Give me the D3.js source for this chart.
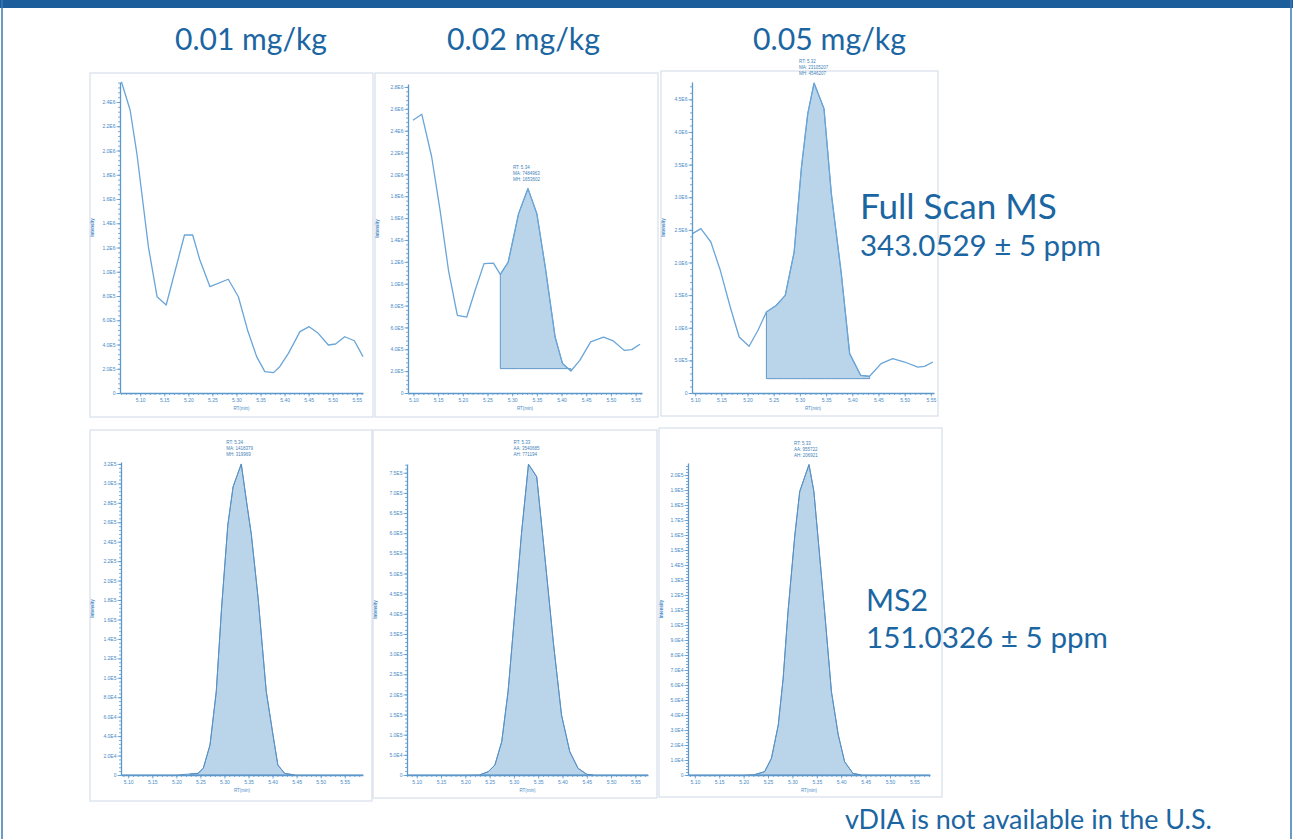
<!DOCTYPE html>
<html>
<head>
<meta charset="utf-8">
<script src="https://cdn.jsdelivr.net/npm/d3@7/dist/d3.min.js"></script>
<style>
  body { margin: 0; background: #fff; }
  svg { display: block; }
</style>
</head>
<body>
<svg id="chart" width="1293" height="839"></svg>
<script>
// ---- data ----
const concLabels = ["0.01 mg/kg", "0.02 mg/kg", "0.05 mg/kg"];
const rowLabels = [["Full Scan MS", "343.0529 \u00b1 5 ppm"], ["MS2", "151.0326 \u00b1 5 ppm"]];
const footNote = "vDIA is not available in the U.S.";

const rtTicks = [5.10, 5.15, 5.20, 5.25, 5.30, 5.35, 5.40, 5.45, 5.50, 5.55];

// Full Scan MS, 0.01 mg/kg
const fs1Rt  = [5.061, 5.079, 5.093, 5.117, 5.135, 5.154, 5.192, 5.209, 5.224, 5.245, 5.283, 5.304, 5.323, 5.342, 5.359, 5.377, 5.390, 5.408, 5.432, 5.451, 5.470, 5.491, 5.506, 5.525, 5.545, 5.563];
const fs1Int = [2567000, 2334000, 1977000, 1207000, 794000, 726000, 1303000, 1303000, 1097000, 877000, 938000, 794000, 520000, 300000, 176000, 168000, 217000, 327000, 506000, 547000, 492000, 396000, 404000, 464000, 431000, 300000];
const fs1YTicks = [0, 2e5, 4e5, 6e5, 8e5, 1e6, 1.2e6, 1.4e6, 1.6e6, 1.8e6, 2e6, 2.2e6, 2.4e6];

// Full Scan MS, 0.02 mg/kg
const fs2Rt  = [5.099, 5.117, 5.137, 5.154, 5.171, 5.189, 5.208, 5.225, 5.243, 5.262, 5.276, 5.292, 5.313, 5.332, 5.350, 5.367, 5.387, 5.402, 5.419, 5.437, 5.459, 5.485, 5.505, 5.527, 5.542, 5.559];
const fs2Int = [2495000, 2550000, 2159000, 1671000, 1123000, 711000, 695000, 940000, 1184000, 1189000, 1086000, 1198000, 1641000, 1870000, 1641000, 1153000, 512000, 269000, 201000, 299000, 467000, 512000, 476000, 390000, 397000, 446000];
const fs2YTicks = [0, 2e5, 4e5, 6e5, 8e5, 1e6, 1.2e6, 1.4e6, 1.6e6, 1.8e6, 2e6, 2.2e6, 2.4e6, 2.6e6, 2.8e6];
const fs2Peak = [5.276, 5.419, 223000];
const fs2Note = ["RT: 5.34", "MA: 7484963", "MH: 1653602"];

// Full Scan MS, 0.05 mg/kg
const fs3Rt  = [5.095, 5.111, 5.130, 5.148, 5.167, 5.184, 5.203, 5.220, 5.236, 5.255, 5.272, 5.289, 5.303, 5.315, 5.327, 5.346, 5.360, 5.379, 5.395, 5.416, 5.433, 5.455, 5.477, 5.500, 5.525, 5.538, 5.554];
const fs3Int = [2443000, 2519000, 2314000, 1880000, 1318000, 858000, 716000, 961000, 1241000, 1344000, 1497000, 2160000, 3463000, 4281000, 4750000, 4358000, 3055000, 1830000, 604000, 271000, 256000, 450000, 527000, 475000, 398000, 409000, 475000];
const fs3YTicks = [0, 5e5, 1e6, 1.5e6, 2e6, 2.5e6, 3e6, 3.5e6, 4e6, 4.5e6];
const fs3Peak = [5.236, 5.433, 220000];
const fs3Note = ["RT: 5.32", "MA: 23105207", "MH: 4546207"];

// MS2, 0.01 mg/kg
const ms1Rt  = [5.085, 5.150, 5.200, 5.228, 5.245, 5.256, 5.270, 5.283, 5.294, 5.307, 5.318, 5.335, 5.346, 5.356, 5.370, 5.387, 5.401, 5.411, 5.425, 5.446, 5.500, 5.588];
const ms1Int = [0, 0, 0, 1000, 1700, 6900, 30900, 85700, 171500, 257000, 296600, 319969, 281000, 247000, 182000, 85700, 41000, 10300, 1700, 0, 0, 0];
const ms1YTicks = [0, 2e4, 4e4, 6e4, 8e4, 1e5, 1.2e5, 1.4e5, 1.6e5, 1.8e5, 2e5, 2.2e5, 2.4e5, 2.6e5, 2.8e5, 3e5, 3.2e5];
const ms1Peak = [5.228, 5.446, 0];
const ms1Note = ["RT: 5.34", "MA: 1418379", "MH: 319969"];

// MS2, 0.02 mg/kg
const ms2Rt  = [5.080, 5.150, 5.200, 5.230, 5.247, 5.261, 5.275, 5.288, 5.302, 5.316, 5.330, 5.347, 5.364, 5.381, 5.398, 5.415, 5.432, 5.450, 5.463, 5.520, 5.576];
const ms2Int = [0, 0, 0, 500, 8000, 25000, 83000, 207000, 405000, 604000, 771194, 740000, 538000, 331000, 149000, 58000, 16600, 1700, 0, 0, 0];
const ms2YTicks = [0, 5e4, 1e5, 1.5e5, 2e5, 2.5e5, 3e5, 3.5e5, 4e5, 4.5e5, 5e5, 5.5e5, 6e5, 6.5e5, 7e5, 7.5e5];
const ms2Peak = [5.230, 5.463, 0];
const ms2Note = ["RT: 5.33", "AA: 3540685", "AH: 771194"];

// MS2, 0.05 mg/kg
const ms3Rt  = [5.086, 5.150, 5.200, 5.223, 5.243, 5.257, 5.271, 5.281, 5.291, 5.305, 5.315, 5.334, 5.344, 5.352, 5.366, 5.380, 5.394, 5.407, 5.424, 5.441, 5.500, 5.582];
const ms3Int = [0, 0, 0, 300, 2200, 11100, 33300, 64400, 109000, 160000, 189000, 206921, 189000, 160000, 109000, 55500, 26700, 8900, 1100, 0, 0, 0];
const ms3YTicks = [0, 1e4, 2e4, 3e4, 4e4, 5e4, 6e4, 7e4, 8e4, 9e4, 1e5, 1.1e5, 1.2e5, 1.3e5, 1.4e5, 1.5e5, 1.6e5, 1.7e5, 1.8e5, 1.9e5, 2e5];
const ms3Peak = [5.223, 5.441, 0];
const ms3Note = ["RT: 5.33", "AA: 955722", "AH: 206921"];

// ---- layout ----
const panels = [
  {rt: fs1Rt, val: fs1Int, yTicks: fs1YTicks, peak: null, note: null,
   frame: [90, 73, 373, 417], left: 120, right: 363, top: 82, bottom: 393, xDom: [5.058, 5.563], yMax: 2.565e6},
  {rt: fs2Rt, val: fs2Int, yTicks: fs2YTicks, peak: fs2Peak, note: fs2Note,
   frame: [375, 73, 658, 417], left: 408, right: 642, top: 84, bottom: 393, xDom: [5.089, 5.563], yMax: 2.827e6},
  {rt: fs3Rt, val: fs3Int, yTicks: fs3YTicks, peak: fs3Peak, note: fs3Note,
   frame: [661, 71, 938, 416], left: 692, right: 934, top: 82, bottom: 393, xDom: [5.094, 5.556], yMax: 4.766e6},
  {rt: ms1Rt, val: ms1Int, yTicks: ms1YTicks, peak: ms1Peak, note: ms1Note, filled: true,
   frame: [90, 430, 372, 801], left: 121, right: 363, top: 462, bottom: 775, xDom: [5.085, 5.588], yMax: 3.22e5},
  {rt: ms2Rt, val: ms2Int, yTicks: ms2YTicks, peak: ms2Peak, note: ms2Note, filled: true,
   frame: [373, 430, 657, 798], left: 407, right: 648, top: 464, bottom: 775, xDom: [5.080, 5.576], yMax: 7.717e5},
  {rt: ms3Rt, val: ms3Int, yTicks: ms3YTicks, peak: ms3Peak, note: ms3Note, filled: true,
   frame: [659, 428, 942, 797], left: 688, right: 930, top: 463, bottom: 775, xDom: [5.086, 5.582], yMax: 2.08e5}
];

const textBlue = "#1b66a2";
const axisBlue = "#5d98cc";
const lineBlue = "#6aa5d8";
const fillBlue = "#bad4e9";
const edgeBlue = "#5790c4";
const frameCol = "#d6e0e9";

const svg = d3.select("#chart");

// page chrome
svg.append("rect").attr("x", 0).attr("y", 0).attr("width", 1293).attr("height", 8).attr("fill", "#1c5d9b");
svg.append("line").attr("x1", 2).attr("x2", 2).attr("y1", 0).attr("y2", 839)
  .attr("stroke", "#3a78b4").attr("stroke-width", 1.5);
svg.append("line").attr("x1", 1291).attr("x2", 1291).attr("y1", 0).attr("y2", 839)
  .attr("stroke", "#3a78b4").attr("stroke-width", 1.5);

const fmtE = d => d === 0 ? "0" : d.toExponential(1).replace("e+", "E");

function drawPanel(p) {
  const g = svg.append("g");

  g.append("rect")
    .attr("x", p.frame[0]).attr("y", p.frame[1])
    .attr("width", p.frame[2] - p.frame[0]).attr("height", p.frame[3] - p.frame[1])
    .attr("fill", "none").attr("stroke", frameCol).attr("stroke-width", 1.2);

  const x = d3.scaleLinear().domain(p.xDom).range([p.left, p.right]);
  const y = d3.scaleLinear().domain([0, p.yMax]).range([p.bottom, p.top]);

  const pts = p.rt.map((r, i) => ({rt: r, v: p.val[i]}));
  let win = pts;

  // shaded peak
  if (p.peak) {
    const [s, e, base] = p.peak;
    win = pts.filter(d => d.rt >= s - 1e-9 && d.rt <= e + 1e-9);
    const area = d3.area().x(d => x(d.rt)).y0(y(base)).y1(d => y(d.v));
    g.append("path").datum(win).attr("d", area)
      .attr("fill", fillBlue).attr("stroke", edgeBlue).attr("stroke-width", 0.9)
      .attr("stroke-linejoin", "round");
  }

  // trace
  const line = d3.line().x(d => x(d.rt)).y(d => y(d.v));
  g.append("path").datum(pts).attr("d", line)
    .attr("fill", "none").attr("stroke", p.filled ? edgeBlue : lineBlue)
    .attr("stroke-width", p.filled ? 1 : 1.3).attr("stroke-linejoin", "round");

  // y axis: minor ticks then major
  const yStep = p.yTicks[1] - p.yTicks[0];
  const yMinor = d3.range(0, p.yMax, yStep / 5);
  g.append("g").attr("transform", `translate(${p.left},0)`)
    .call(d3.axisLeft(y).tickValues(yMinor).tickSize(2).tickFormat(""))
    .call(a => a.select(".domain").remove());
  const yAx = g.append("g").attr("transform", `translate(${p.left},0)`)
    .call(d3.axisLeft(y).tickValues(p.yTicks).tickSize(3.5).tickPadding(1).tickSizeOuter(0).tickFormat(fmtE));

  // x axis
  const xMinor = d3.range(5.05, 5.6, 0.01).filter(v => v >= p.xDom[0] && v <= p.xDom[1]);
  g.append("g").attr("transform", `translate(0,${p.bottom})`)
    .call(d3.axisBottom(x).tickValues(xMinor).tickSize(2).tickFormat(""))
    .call(a => a.select(".domain").remove());
  const xAx = g.append("g").attr("transform", `translate(0,${p.bottom})`)
    .call(d3.axisBottom(x).tickValues(rtTicks).tickSize(3.5).tickPadding(2).tickSizeOuter(0).tickFormat(d3.format(".2f")));

  [yAx, xAx].forEach(a => {
    a.select(".domain").attr("stroke", axisBlue).attr("stroke-width", 1.3);
    a.selectAll("text").attr("fill", "#4a8bc6").style("font", "5px 'Liberation Sans', Arial, sans-serif");
  });
  g.selectAll(".tick line").attr("stroke", axisBlue).attr("stroke-width", 0.8);

  // axis titles
  g.append("text")
    .attr("transform", `translate(${p.frame[0] + 4},${(p.top + p.bottom) / 2 - 10}) rotate(-90)`)
    .attr("text-anchor", "middle").attr("fill", "#4a8bc6")
    .style("font", "bold 4.5px 'Liberation Sans', Arial, sans-serif")
    .text("Intensity");
  g.append("text")
    .attr("x", (p.left + p.right) / 2).attr("y", p.bottom + 17)
    .attr("text-anchor", "middle").attr("fill", "#4a8bc6")
    .style("font", "4.5px 'Liberation Sans', Arial, sans-serif")
    .text("RT(min)");

  // peak label, placed over the apex of the shaded peak
  if (p.note) {
    const apex = win[d3.maxIndex(win, d => d.v)];
    const px = x(apex.rt) - 15;
    const py = y(apex.v);
    g.selectAll("text.note").data(p.note).enter().append("text")
      .attr("class", "note")
      .attr("x", px).attr("y", (d, i) => py - 20 + i * 6)
      .attr("fill", "#3f7fb8")
      .style("font", "4.5px 'Liberation Sans', Arial, sans-serif")
      .text(d => d);
  }
}

panels.forEach(drawPanel);

// big labels, sized to the widths in the reference
function bigText(str, x0, width, baseline) {
  const t = svg.append("text")
    .attr("x", x0).attr("y", baseline)
    .attr("fill", textBlue)
    .style("font-family", "Lato, 'Open Sans', sans-serif")
    .style("font-size", "30px")
    .text(str);
  const w = t.node().getComputedTextLength();
  t.style("font-size", (30 * width / w).toFixed(2) + "px");
  return t;
}

bigText(concLabels[0], 175, 152, 50);
bigText(concLabels[1], 447, 153, 50);
bigText(concLabels[2], 753, 153, 50);

bigText(rowLabels[0][0], 860, 197, 219);
bigText(rowLabels[0][1], 860, 241, 256);
bigText(rowLabels[1][0], 866, 62, 611);
bigText(rowLabels[1][1], 866, 242, 648);

bigText(footNote, 845, 367, 829);
</script>
</body>
</html>
